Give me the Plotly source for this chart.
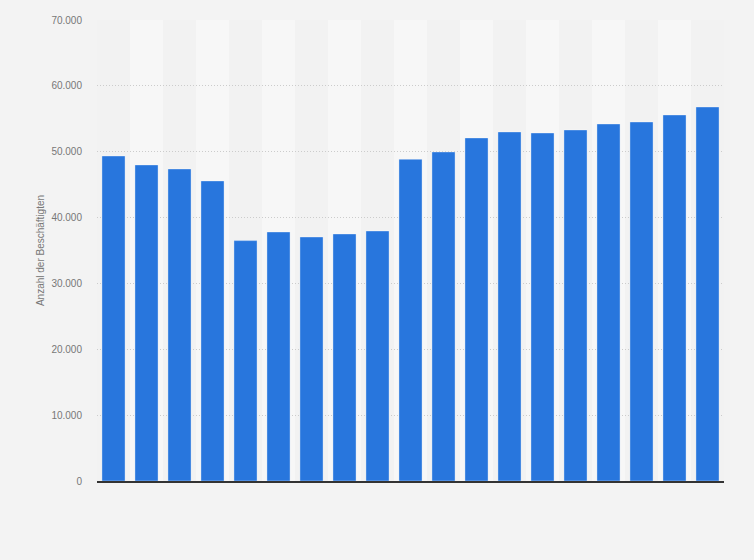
import plotly.graph_objects as go

categories = [str(y) for y in range(2001, 2020)]
values = [49350, 47990, 47380, 45560, 36500, 37810, 37050, 37510, 37960,
          48850, 49960, 52090, 53000, 52840, 53300, 54210, 54510, 55580, 56790]
y_ticks = [0, 10000, 20000, 30000, 40000, 50000, 60000, 70000]
y_title = "Anzahl der Beschäftigten"

fig = go.Figure()
fig.add_trace(go.Bar(
    x=categories, y=values,
    marker=dict(color="#2876dd", line=dict(color="rgba(255,255,255,0.35)", width=1)),
    width=0.7,
))

shapes = []
for i in range(len(categories)):
    if i % 2 == 1:
        shapes.append(dict(type="rect", xref="x", yref="paper", x0=i - 0.5, x1=i + 0.5,
                           y0=0, y1=1, fillcolor="#f7f7f7", line=dict(width=0), layer="below"))

fig.update_layout(
    width=754, height=560,
    margin=dict(l=97, r=30, t=20, b=79),
    paper_bgcolor="#f3f3f3", plot_bgcolor="#f2f2f2",
    separators=",.",
    showlegend=False,
    shapes=shapes,
    font=dict(family="Liberation Sans, Arial, sans-serif", size=10, color="#777777"),
    bargap=0.3,
)
fig.update_xaxes(
    type="category", showticklabels=False, showgrid=False,
    showline=True, linecolor="#333333", linewidth=1.5, ticks="",
    range=[-0.5, len(categories) - 0.5],
)
fig.update_yaxes(
    range=[0, 70000], tickvals=y_ticks, tickformat=",d",
    showgrid=True, gridcolor="#cccccc", griddash="1px,2px", gridwidth=1,
    zeroline=False, showline=False, ticks="",
    ticklabelstandoff=14,
    title=dict(text=y_title, font=dict(size=10, color="#777777"), standoff=4),
)

fig.write_html("out.html", config={"displayModeBar": False},
               post_script="document.body.style.margin='0';document.body.style.background='#f3f3f3';")
